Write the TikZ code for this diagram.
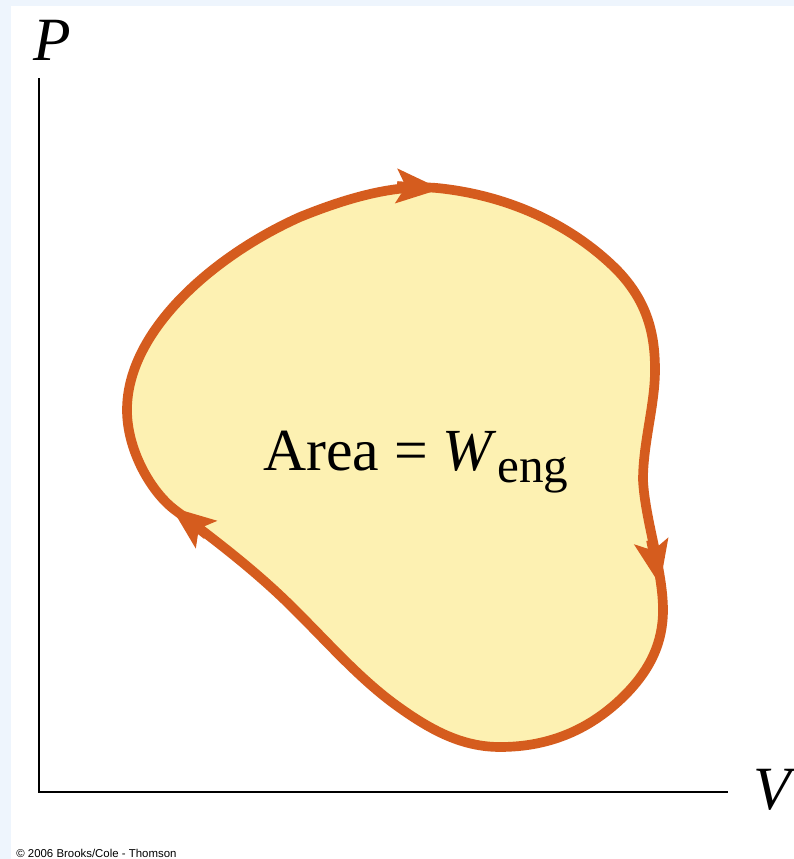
\documentclass[tikz,border=0pt]{standalone}
\usepackage{fontspec}
\setmainfont{Liberation Serif}
\newfontfamily\creditfont{Liberation Sans}
\usepackage{tikz}
\usetikzlibrary{arrows.meta}

\definecolor{loopline}{RGB}{213,92,30}
\definecolor{loopfill}{RGB}{253,241,178}
\definecolor{slideblue}{RGB}{238,245,253}

\begin{document}
\begin{tikzpicture}[x=0.02cm, y=-0.02cm,
        axis/.style={line width=1.6pt, black},
        cycleline/.style={line width=5.5pt, loopline, line join=round},
        cycletip/.style={line width=5.5pt, loopline, -{Stealth[length=25pt, width=19pt, inset=5pt]}},
        axislabel/.style={font=\fontsize{35}{40}\selectfont\itshape}]
        % Background
        \fill[slideblue] (0,0) rectangle (794,859);
        \fill[white] (11,6) rectangle (794,859);
        \useasboundingbox (0,0) rectangle (794,859);

        % Axes
        \coordinate (ptop) at (39,78);
        \coordinate (origin) at (39,792);
        \coordinate (vend) at (728,792);
        \draw[axis] (ptop) -- (origin) -- (vend);
        \node[axislabel] (plabel) at (52,40) {P};
        \node[axislabel] (vlabel) at (772,790) {V};

        % Cycle (clockwise)
        \draw[cycleline, fill=loopfill] (437,188)
            .. controls (507,195) and (571,224) .. (617,270)
            .. controls (648,302) and (655,335) .. (655,370)
            .. controls (655,405) and (643,443) .. (643,480)
            .. controls (645,520) and (663,570) .. (663,610)
            .. controls (663,643) and (650,669) .. (627,693)
            .. controls (592,729) and (550,747) .. (500,747)
            .. controls (462,747) and (431,730) .. (400,708)
            .. controls (363,682) and (332,647) .. (300,615)
            .. controls (261,575) and (219,543) .. (175,510)
            .. controls (151,492) and (127,450) .. (127,410)
            .. controls (127,330) and (215,255) .. (300,217)
            .. controls (342,200) and (392,184) .. cycle;

        % Direction arrows (heads only)
        \coordinate (topback) at (397,186);
        \coordinate (toptip) at (441,189);
        \coordinate (rightback) at (651,540);
        \coordinate (righttip) at (660,585);
        \coordinate (leftback) at (207,535);
        \coordinate (lefttip) at (171,507);
        \draw[cycletip] (topback) -- (toptip);
        \draw[cycletip] (rightback) -- (righttip);
        \draw[cycletip] (leftback) -- (lefttip);

        % Area label
        \node[anchor=base west, inner sep=0pt, font=\fontsize{34}{40}\selectfont] (area) at (263,470)
            {Area = \textit{W}\raisebox{-7pt}{\fontsize{28}{32}\selectfont eng}};

        % Credit line
        \node[anchor=base west, inner sep=0pt, font=\creditfont\fontsize{6.5}{8}\selectfont] (credit) at (16,857)
            {© 2006 Brooks/Cole - Thomson};
    \end{tikzpicture}
\end{document}
